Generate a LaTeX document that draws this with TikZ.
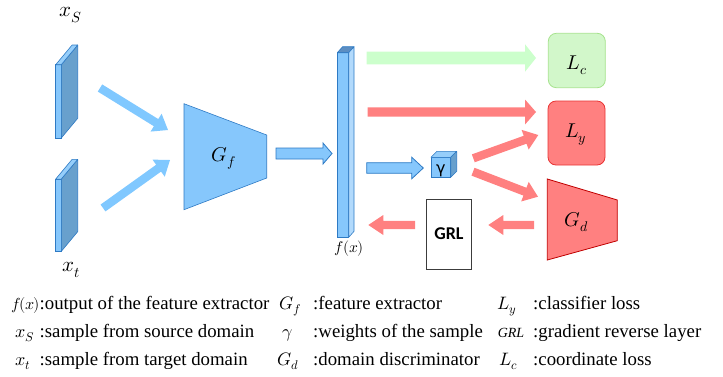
\documentclass[tikz,border=0pt]{standalone}
\usepackage{fontspec}
\usepackage{unicode-math}
\setmainfont{Liberation Serif}
\setmathfont{Latin Modern Math}
\newfontfamily\boxsans{Carlito}
\newfontfamily\greeksans{DejaVu Sans}
\usetikzlibrary{calc}

\definecolor{bodyblue}{RGB}{134,199,252}
\definecolor{edgeblue}{RGB}{46,122,196}
\definecolor{sideblue}{RGB}{104,160,205}
\definecolor{topblue}{RGB}{150,206,250}
\definecolor{darktop}{RGB}{92,142,194}
\definecolor{paleside}{RGB}{178,218,252}
\definecolor{flowblue}{RGB}{128,200,255}
\definecolor{flowgreen}{RGB}{204,255,204}
\definecolor{lcfill}{RGB}{210,247,202}
\definecolor{lcedge}{RGB}{165,226,140}
\definecolor{flowred}{RGB}{255,128,128}
\definecolor{lyedge}{RGB}{232,52,52}
\definecolor{gdedge}{RGB}{192,0,0}
\definecolor{grledge}{RGB}{60,60,60}

% block arrow from #2 to #3: half shaft #4, half head #5, head length #6
\newcommand{\blockarrow}[6]{%
  \coordinate (hb) at ($(#3)!#6!(#2)$);
  \path[#1] ($(#2)!#4!90:(#3)$) -- ($(hb)!#4!90:(#3)$) -- ($(hb)!#5!90:(#3)$)
    -- (#3) -- ($(hb)!#5!-90:(#3)$) -- ($(hb)!#4!-90:(#3)$)
    -- ($(#2)!#4!-90:(#3)$) -- cycle;
}

\tikzset{
  face/.style={draw=edgeblue, line width=0.6pt, fill=bodyblue, inner sep=0pt, outer sep=0pt},
  slabside/.style={draw=edgeblue, line width=0.6pt, fill=sideblue, line join=round},
  slabtop/.style={draw=edgeblue, line width=0.6pt, fill=topblue, line join=round},
  mathlbl/.style={inner sep=0pt, font=\fontsize{20}{22}\selectfont},
  lossbox/.style={rounded corners=8pt, line width=0.8pt, inner sep=0pt},
  legtext/.style={anchor=base west, inner sep=0pt, font=\fontsize{18.8}{20}\selectfont},
  legsym/.style={anchor=base, inner sep=0pt, font=\fontsize{18}{20}\selectfont},
  fillblue/.style={fill=flowblue},
  outblue/.style={fill=bodyblue, draw=edgeblue, line width=0.8pt, line join=miter},
  fillgreen/.style={fill=flowgreen},
  fillred/.style={fill=flowred},
}

\begin{document}
\begin{tikzpicture}[x=1pt, y=-1pt]
\useasboundingbox (0,0) rectangle (723,376);

% ---- input slabs ----
\node[face, minimum width=5.6pt, minimum height=73.3pt] (xs) at (58.5,101.35) {};
\path[slabside] (xs.north east) -- ++(16.4,-19.7) -- ($(xs.south east)+(16.4,-19.7)$) -- (xs.south east) -- cycle;
\path[slabtop] (xs.north west) -- ++(16.4,-19.7) -- ($(xs.north east)+(16.4,-19.7)$) -- (xs.north east) -- cycle;
\node[mathlbl, font=\fontsize{21}{23}\selectfont] (xslbl) at (71,15) {$x_S$};

\node[face, minimum width=5.6pt, minimum height=72.3pt] (xt) at (58.5,215.2) {};
\path[slabside] (xt.north east) -- ++(16.4,-19.7) -- ($(xt.south east)+(16.4,-19.7)$) -- (xt.south east) -- cycle;
\path[slabtop] (xt.north west) -- ++(16.4,-19.7) -- ($(xt.north east)+(16.4,-19.7)$) -- (xt.north east) -- cycle;
\node[mathlbl, font=\fontsize{21}{23}\selectfont] (xtlbl) at (71,270) {$x_t$};

% ---- feature extractor ----
\path[face] (184,103.7) -- (266.7,135) -- (266.7,178) -- (184,209.7) -- cycle;
\node[mathlbl] (Gf) at (224,158) {$G_f$};

% ---- feature vector ----
\node[face, minimum width=11.4pt, minimum height=184.6pt] (fx) at (343,145) {};
\path[slabtop, fill=darktop] (fx.north west) -- ++(5.3,-6) -- ($(fx.north east)+(5.3,-6)$) -- (fx.north east) -- cycle;
\path[slabside, fill=paleside] (fx.north east) -- ++(5.3,-6) -- ($(fx.south east)+(5.3,-6)$) -- (fx.south east) -- cycle;
\node[mathlbl, font=\fontsize{15.5}{17}\selectfont] (fxlbl) at (349,249) {$f(x)$};

% ---- sample weight cube ----
\node[face, minimum width=19.7pt, minimum height=20pt] (gam) at (440.85,167.3) {};
\path[slabtop] (gam.north west) -- ++(6,-6) -- ($(gam.north east)+(6,-6)$) -- (gam.north east) -- cycle;
\path[slabside] (gam.north east) -- ++(6,-6) -- ($(gam.south east)+(6,-6)$) -- (gam.south east) -- cycle;
\node[inner sep=0pt, font=\greeksans\fontsize{16}{18}\selectfont] at (440.8,170.3) {γ};

% ---- losses and discriminator ----
\node[lossbox, fill=lcfill, draw=lcedge, minimum width=57pt, minimum height=54.4pt] (Lc) at (576.8,60.5) {};
\node[mathlbl] at (576.7,65) {$L_c$};
\node[lossbox, fill=flowred, draw=lyedge, minimum width=57pt, minimum height=64pt] (Ly) at (576.5,133) {};
\node[mathlbl] at (575.7,135) {$L_y$};
\path[fill=flowred, draw=gdedge, line width=0.8pt] (547.3,179) -- (617.3,200) -- (617.3,240.7) -- (547.3,260) -- cycle;
\node[mathlbl] (Gd) at (576.7,221.7) {$G_d$};

\node[draw=grledge, line width=0.8pt, fill=white, minimum width=45.4pt, minimum height=70.3pt, inner sep=0pt,
      font=\boxsans\bfseries\fontsize{18}{20}\selectfont] (GRL) at (449,234.15) {GRL};

% ---- connector end points ----
\coordinate (s1) at (100,88);    \coordinate (e1) at (168,130);
\coordinate (s2) at (103,208);   \coordinate (e2) at (170,160);
\coordinate (s3) at (276,153.5); \coordinate (e3) at (332,153.5);
\coordinate (s4) at (366.7,58);  \coordinate (e4) at (536,58);
\coordinate (s5) at (367.7,112); \coordinate (e5) at (536,112);
\coordinate (s6) at (366.7,168); \coordinate (e6) at (423.3,168);
\coordinate (s7) at (473.3,158.3); \coordinate (e7) at (538.3,135);
\coordinate (s8) at (473,171.7); \coordinate (e8) at (538,196.7);
\coordinate (s9) at (534,225);   \coordinate (e9) at (488.3,225);
\coordinate (s10) at (415,225);  \coordinate (e10) at (368.3,225);

% ---- connectors ----
\blockarrow{fillblue}{s1}{e1}{4.2pt}{10.5pt}{14pt}
\blockarrow{fillblue}{s2}{e2}{4.2pt}{10.5pt}{14pt}
\blockarrow{outblue}{s3}{e3}{5.5pt}{10.5pt}{9pt}
\blockarrow{fillgreen}{s4}{e4}{6.3pt}{13.8pt}{11pt}
\blockarrow{fillred}{s5}{e5}{4.7pt}{12.5pt}{11pt}
\blockarrow{outblue}{s6}{e6}{5.3pt}{10.8pt}{11.6pt}
\blockarrow{fillred}{s7}{e7}{4.2pt}{10.5pt}{14pt}
\blockarrow{fillred}{s8}{e8}{4.2pt}{10.5pt}{14pt}
\blockarrow{fillred}{s9}{e9}{4.2pt}{10pt}{15pt}
\blockarrow{fillred}{s10}{e10}{4.2pt}{10pt}{15pt}

% ---- legend ----
\node[legsym, anchor=base west, font=\fontsize{16}{18}\selectfont] (k1) at (11.5,309) {$f\mkern-2mu(x\mkern-1mu)$};
\node[legtext] at (39.5,309) {:output of the feature extractor};
\node[legsym, anchor=base west] (k2) at (15,337) {$x_S$};
\node[legtext] at (39.5,337) {:sample from source domain};
\node[legsym, anchor=base west] (k3) at (15,365) {$x_t$};
\node[legtext] at (39.5,365) {:sample from target domain};

\node[legsym] (k4) at (290,309) {$G_f$};
\node[legtext] at (313,309) {:feature extractor};
\node[legsym] (k5) at (288,337) {$\gamma$};
\node[legtext] at (313,337) {:weights of the sample};
\node[legsym] (k6) at (288.5,365) {$G_d$};
\node[legtext] at (313,365) {:domain discriminator};

\node[legsym] (k7) at (507,309) {$L_y$};
\node[legtext] at (533,309) {:classifier loss};
\node[legsym, font=\itshape\fontsize{14}{16}\selectfont] (k8) at (511,337) {GRL};
\node[legtext] at (533,337) {:gradient reverse layer};
\node[legsym] (k9) at (509,365) {$L_c$};
\node[legtext] at (533,365) {:coordinate loss};
\end{tikzpicture}
\end{document}
